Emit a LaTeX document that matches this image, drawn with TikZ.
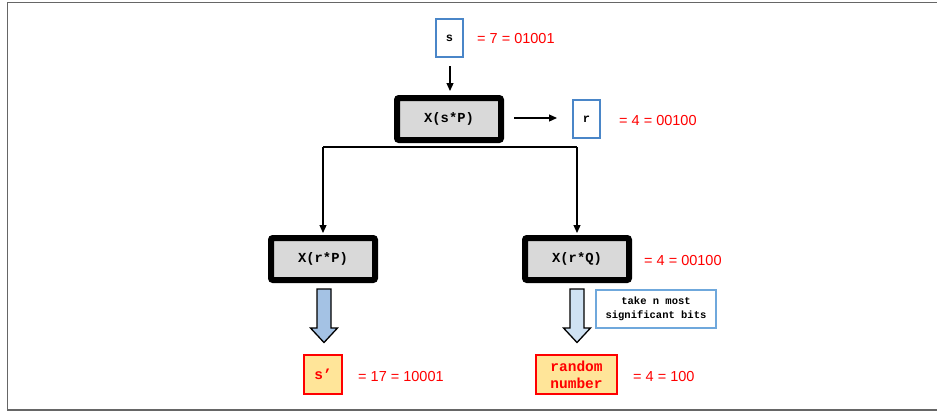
\documentclass[tikz,border=0pt]{standalone}
\usepackage{fontspec}
\setmainfont{Liberation Sans}
\newfontfamily\monob{Liberation Mono}
\usetikzlibrary{arrows.meta}
\definecolor{boxblue}{HTML}{4A86C8}
\definecolor{lightblue}{HTML}{6FA8DC}
\definecolor{valred}{HTML}{FF0000}
\definecolor{fillgray}{HTML}{D9D9D9}
\definecolor{fillyellow}{HTML}{FFE599}
\definecolor{arrowblue}{HTML}{A4C2E4}
\definecolor{arrowpale}{HTML}{CFE2F3}
\tikzset{
  varbox/.style={draw=boxblue, line width=2pt, fill=white, minimum width=27pt, minimum height=38pt, inner sep=0pt, font=\monob\bfseries\fontsize{12}{13}\selectfont},
  opbox/.style={draw=black, line width=6pt, fill=fillgray, rounded corners=2pt, minimum width=104pt, minimum height=42pt, inner sep=0pt, font=\monob\bfseries\fontsize{13.8}{15}\selectfont},
  resbox/.style={draw=valred, line width=2pt, fill=fillyellow, inner sep=0pt, font=\monob\bfseries\fontsize{14.5}{17}\selectfont, text=valred, align=center},
  val/.style={text=valred, font=\fontsize{14.5}{16}\selectfont, anchor=west, inner sep=0pt},
  conn/.style={-{Triangle[length=8pt,width=7pt]}, line width=1.2pt},
  bigarrow/.style={draw=black, line width=1.3pt, line join=miter},
}
\begin{document}
\begin{tikzpicture}[x=1pt,y=-1pt]
\useasboundingbox (0,0) rectangle (937,413);
\draw[draw=black!60, line width=1.5pt] (938,2.5) -- (7.5,2.5) -- (7.5,410) -- (938,410);

% top
\node[varbox] (s) at (449.5,38) {s};
\node[val] (sv) at (477,38.5) {= 7 = 01001};
\node[opbox] (xsp) at (449,119) {X(s*P)};
\coordinate (s1) at (450,66);
\coordinate (s2) at (450,91);
\draw[conn] (s1) -- (s2);
\node[varbox] (r) at (586.5,119) {r};
\node[val] (rv) at (619,120.5) {= 4 = 00100};
\coordinate (ra) at (514,118);
\coordinate (rb) at (557,118);
\draw[conn] (ra) -- (rb);

% middle
\node[opbox] (xrp) at (323,259) {X(r*P)};
\node[opbox] (xrq) at (577,259) {X(r*Q)};
\coordinate (hl) at (323,147);
\coordinate (hr) at (577,147);
\coordinate (hlb) at (323,233);
\coordinate (hrb) at (577,233);
\draw[line width=1.2pt] (hl) -- (hr);
\draw[conn] (hl) -- (hlb);
\draw[conn] (hr) -- (hrb);
\node[val] (qv) at (644,260.5) {= 4 = 00100};

% bottom arrows
\draw[bigarrow, fill=arrowblue] (317,289) -- (331,289) -- (331,328) -- (337.5,328) -- (324,342.5) -- (310.5,328) -- (317,328) -- cycle;
\draw[bigarrow, fill=arrowpale] (570,289) -- (584,289) -- (584,328) -- (590.5,328) -- (577,342.5) -- (563.5,328) -- (570,328) -- cycle;
\node[draw=lightblue, line width=2pt, fill=white, minimum width=120pt, minimum height=38pt, inner sep=0pt, align=center, font=\monob\bfseries\fontsize{10.5}{13.5}\selectfont] (note) at (656,309) {take n most\\significant bits};

% results
\node[resbox, minimum width=38pt, minimum height=39pt] (sp) at (323,374.5) {s’};
\node[val] (spv) at (358,376.5) {= 17 = 10001};
\node[resbox, minimum width=81pt, minimum height=39pt] (rn) at (576.5,374.5) {random\\number};
\node[val] (rnv) at (633,376.5) {= 4 = 100};
\end{tikzpicture}
\end{document}
